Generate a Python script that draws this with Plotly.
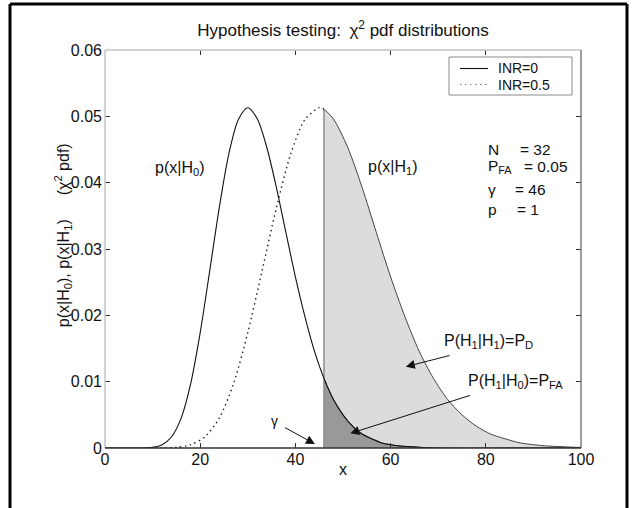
import plotly.graph_objects as go

# ---------------- data ----------------
# H0 : INR = 0  (solid)
h0_x = [0, 8, 10, 12, 14, 16, 18, 20, 22, 24, 26, 28, 30, 32, 34, 36, 38, 40, 42,
        44, 46, 48, 50, 52, 54, 56, 58, 60, 62, 64, 66, 70, 100]
h0_y = [0.0, 0.0, 0.0001, 0.0005, 0.0017, 0.0045, 0.0097, 0.0174, 0.0267, 0.0362,
        0.0443, 0.0495, 0.0513, 0.0496, 0.0453, 0.0393, 0.0325, 0.0258, 0.0198,
        0.0146, 0.0105, 0.0073, 0.0050, 0.0033, 0.0021, 0.0014, 0.0008, 0.0005,
        0.0003, 0.0002, 0.0001, 0.0, 0.0]

# H1 : INR = 0.5  (dotted)
h1_x = [0, 12, 15, 18, 21, 24, 27, 30, 33, 36, 39, 42, 45, 46, 48, 51, 54, 57, 60,
        63, 66, 69, 72, 75, 78, 81, 84, 87, 90, 93, 96, 99, 100]
h1_y = [0.0, 0.0, 0.0001, 0.0005, 0.0017, 0.0045, 0.0097, 0.0174, 0.0267, 0.0362,
        0.0443, 0.0495, 0.0513, 0.0511, 0.0496, 0.0453, 0.0393, 0.0325, 0.0258,
        0.0198, 0.0146, 0.0105, 0.0073, 0.0050, 0.0033, 0.0021, 0.0014, 0.0008,
        0.0005, 0.0003, 0.0002, 0.0001, 0.0001]

gamma = 46
x_ticks = [0, 20, 40, 60, 80, 100]
y_ticks = [0, 0.01, 0.02, 0.03, 0.04, 0.05, 0.06]
y_tick_labels = ["0", "0.01", "0.02", "0.03", "0.04", "0.05", "0.06"]

series_names = ["INR=0", "INR=0.5"]
params = [("N", "= 32", 0.0450, 86.8), ("P<sub>FA</sub>", "= 0.05", 0.0425, 87.5),
          ("γ", "= 46", 0.0389, 85.8), ("p", "= 1", 0.0360, 86.1)]

FONT = "Liberation Sans, Arial, Helvetica, sans-serif"
FS = 16
TXT = "#111111"

fig = go.Figure()


def tail(xs, ys):
    tx = [x for x in xs if x >= gamma]
    ty = [y for x, y in zip(xs, ys) if x >= gamma]
    return tx, ty


# shaded tails (P_D light, P_FA dark)
tx1, ty1 = tail(h1_x, h1_y)
fig.add_trace(go.Scatter(x=tx1, y=ty1, fill="tozeroy", fillcolor="#dcdcdc",
                         mode="lines", line=dict(color="#444444", width=1, shape="spline", smoothing=0.8),
                         showlegend=False, hoverinfo="skip"))
tx0, ty0 = tail(h0_x, h0_y)
fig.add_trace(go.Scatter(x=tx0, y=ty0, fill="tozeroy", fillcolor="#999999",
                         mode="lines", line=dict(color="#444444", width=1, shape="spline", smoothing=0.8),
                         showlegend=False, hoverinfo="skip"))
# threshold edge of the patches
fig.add_trace(go.Scatter(x=[gamma, gamma], y=[0, ty1[0]], mode="lines",
                         line=dict(color="#8c8c8c", width=1.5), showlegend=False, hoverinfo="skip"))

# curves
fig.add_trace(go.Scatter(x=h0_x, y=h0_y, mode="lines", name=series_names[0],
                         line=dict(color="#111111", width=1.1, shape="spline", smoothing=0.8),
                         showlegend=False))
fig.add_trace(go.Scatter(x=[x for x in h1_x if x <= gamma], y=[y for x, y in zip(h1_x, h1_y) if x <= gamma],
                         mode="lines", name=series_names[1],
                         line=dict(color="#222222", width=1.4, dash="1.5px,3.5px", shape="spline", smoothing=0.8),
                         showlegend=False))

ann = []


def text(x, y, t, xanchor="center", yanchor="middle", size=FS, xref="x", yref="y", **kw):
    ann.append(dict(x=x, y=y, xref=xref, yref=yref, text=t, showarrow=False,
                    xanchor=xanchor, yanchor=yanchor,
                    font=dict(family=FONT, size=size, color=TXT), **kw))


def arrow(x0, y0, x1, y1):
    ann.append(dict(x=x1, y=y1, ax=x0, ay=y0, xref="x", yref="y", axref="x", ayref="y",
                    text="", showarrow=True, arrowhead=2, arrowsize=1.8, arrowwidth=1,
                    arrowcolor="#111111", standoff=0))


text(15.8, 0.0422, "p(x|H<sub>0</sub>)")
text(60.5, 0.0423, "p(x|H<sub>1</sub>)")
for lab, val, yv, xe in params:
    text(80.1, yv, lab, xanchor="left", size=15.5)
    text(xe, yv, val, xanchor="left", size=15.5)

text(35.7, 0.0040, "γ", size=14)
arrow(37.5, 0.0032, 44.1, 0.0006)
text(80.5, 0.0160, "P(H<sub>1</sub>|H<sub>1</sub>)=P<sub>D</sub>")
arrow(72.7, 0.0140, 63.2, 0.01226)
text(86.3, 0.0100, "P(H<sub>1</sub>|H<sub>0</sub>)=P<sub>FA</sub>")
arrow(77.0, 0.0080, 51.55, 0.00221)

# y-axis title
text(-0.088, 0.535, "p(x|H<sub>0</sub>), p(x|H<sub>1</sub>)\u2003\u2002(χ<sup>2</sup> pdf)",
     xref="paper", yref="paper", textangle=-90)
# x-axis title
text(0.5, -0.055, "x", xref="paper", yref="paper")


# legend (manual)
def px2x(p):
    return (p - 105) / 476.0


def px2y(p):
    return (448 - p) / 398.0


shapes = []
shapes.append(dict(type="rect", xref="paper", yref="paper", x0=px2x(449), x1=px2x(572),
                   y0=px2y(95), y1=px2y(57), line=dict(color="#8a8a8a", width=1),
                   fillcolor="white", layer="above"))
shapes.append(dict(type="line", xref="paper", yref="paper", x0=px2x(460), x1=px2x(488),
                   y0=px2y(68.5), y1=px2y(68.5), line=dict(color="#111111", width=1.1), layer="above"))
shapes.append(dict(type="line", xref="paper", yref="paper", x0=px2x(460), x1=px2x(488),
                   y0=px2y(84.5), y1=px2y(84.5), line=dict(color="#777777", width=1.2, dash="1.5px,3.5px"),
                   layer="above"))
text(px2x(496), px2y(68.5), series_names[0], xanchor="left", xref="paper", yref="paper", size=14)
text(px2x(496), px2y(84.5), series_names[1], xanchor="left", xref="paper", yref="paper", size=14)

# axes box
shapes.append(dict(type="line", xref="paper", yref="paper", x0=0, x1=0, y0=0, y1=1,
                   line=dict(color="#c4c4c4", width=1.5), layer="above"))
shapes.append(dict(type="line", xref="paper", yref="paper", x0=0, x1=1, y0=1, y1=1,
                   line=dict(color="#c4c4c4", width=1.5), layer="above"))
shapes.append(dict(type="line", xref="paper", yref="paper", x0=1, x1=1, y0=0, y1=1,
                   line=dict(color="#6a6a6a", width=1.3), layer="above"))
shapes.append(dict(type="line", xref="paper", yref="paper", x0=0, x1=1, y0=0, y1=0,
                   line=dict(color="#333333", width=1.5), layer="above"))
# outer frame
shapes.append(dict(type="line", xref="paper", yref="paper", x0=px2x(10), x1=px2x(10),
                   y0=px2y(515), y1=px2y(4), line=dict(color="black", width=3)))
shapes.append(dict(type="line", xref="paper", yref="paper", x0=px2x(10), x1=px2x(627),
                   y0=px2y(4), y1=px2y(4), line=dict(color="black", width=3)))
shapes.append(dict(type="line", xref="paper", yref="paper", x0=px2x(627), x1=px2x(627),
                   y0=px2y(515), y1=px2y(4), line=dict(color="black", width=3)))

fig.update_layout(
    width=636, height=508,
    margin=dict(l=105, r=55, t=50, b=60),
    paper_bgcolor="white", plot_bgcolor="white",
    showlegend=False,
    title=dict(text="Hypothesis testing:\u2002χ<sup>2</sup> pdf distributions",
               x=343 / 636.0, xanchor="center", y=1 - 30 / 508.0, yanchor="middle",
               font=dict(family=FONT, size=17, color=TXT)),
    annotations=ann, shapes=shapes,
    font=dict(family=FONT, size=FS, color=TXT),
)
fig.update_xaxes(range=[0, 100], tickvals=x_ticks, ticktext=[str(v) for v in x_ticks],
                 ticks="inside", ticklen=5, tickcolor="#333333", tickwidth=1,
                 mirror="ticks", showline=False, showgrid=False, zeroline=False,
                 tickfont=dict(family=FONT, size=FS, color=TXT))
fig.update_yaxes(range=[0, 0.06], tickvals=y_ticks, ticktext=y_tick_labels,
                 ticks="inside", ticklen=5, tickcolor="#333333", tickwidth=1,
                 mirror="ticks", showline=False, showgrid=False, zeroline=False,
                 ticklabelstandoff=2,
                 tickfont=dict(family=FONT, size=FS, color=TXT))

fig.write_html("out.html", config={"displayModeBar": False},
               post_script="document.body.style.margin='0';document.body.style.overflow='hidden';")
